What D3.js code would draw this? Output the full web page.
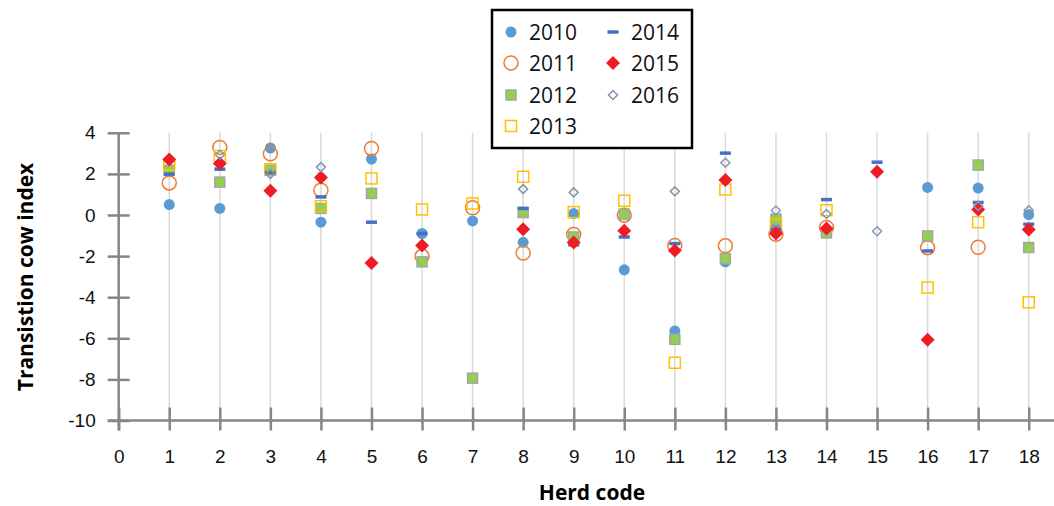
<!DOCTYPE html>
<html>
<head>
<meta charset="utf-8">
<script src="https://d3js.org/d3.v7.min.js"></script>
<style>
  body { margin: 0; background: #fff; }
  svg { display: block; font-family: "Open Sans", sans-serif; }
</style>
</head>
<body>
<div id="chart"></div>
<script>
// herd codes on the x axis
const herds = [1, 2, 3, 4, 5, 6, 7, 8, 9, 10, 11, 12, 13, 14, 15, 16, 17, 18];
const xTicks = [0, 1, 2, 3, 4, 5, 6, 7, 8, 9, 10, 11, 12, 13, 14, 15, 16, 17, 18];
const yTicks = [4, 2, 0, -2, -4, -6, -8, -10];

// transition cow index per herd, one array per year (null = no point)
const y2010 = [0.51, 0.32, 3.26, -0.35, 2.72, -0.90, -0.29, -1.33, 0.07, -2.67, -5.65, -2.28, -0.63, null, null, 1.34, 1.31, 0.02];
const y2011 = [1.56, 3.29, 2.98, 1.21, 3.24, -2.01, 0.35, -1.85, -0.95, -0.01, -1.49, -1.50, -0.94, -0.61, null, -1.59, -1.57, null];
const y2012 = [2.18, 1.60, 2.18, 0.32, 1.05, -2.28, -7.94, 0.12, -1.07, 0.04, -6.05, -2.12, -0.20, -0.87, null, -1.02, 2.43, -1.58];
const y2013 = [2.45, 2.87, 2.23, 0.43, 1.78, 0.27, 0.56, 1.86, 0.14, 0.69, -7.19, 1.24, -0.45, 0.23, null, -3.53, -0.35, -4.25];
const y2014 = [1.99, 2.23, 2.05, 0.88, -0.35, -0.90, null, 0.32, -1.45, -1.07, -1.39, 3.01, -0.71, 0.75, 2.57, -1.75, 0.61, -0.45];
const y2015 = [2.70, 2.51, 1.18, 1.83, -2.33, -1.49, null, -0.69, -1.34, -0.77, -1.73, 1.70, -0.90, -0.66, 2.10, -6.07, 0.27, -0.71];
const y2016 = [null, 2.93, 2.00, 2.33, null, null, null, 1.26, 1.10, null, 1.15, 2.54, 0.22, 0.05, -0.79, null, 0.44, 0.23];

const years = ['2010', '2011', '2012', '2013', '2014', '2015', '2016'];
const values = [y2010, y2011, y2012, y2013, y2014, y2015, y2016];

// marker look for each year
const markers = {
  '2010': { shape: 'circle', r: 5.5, fill: '#5b9bd5', stroke: 'none' },
  '2011': { shape: 'circle', r: 7, fill: 'none', stroke: '#ed7d31', sw: 1.5 },
  '2012': { shape: 'square', r: 5, fill: '#92d050', stroke: '#a5a5a5', sw: 1.5 },
  '2013': { shape: 'square', r: 5.5, fill: 'none', stroke: '#ffc000', sw: 1.5 },
  '2014': { shape: 'dash', r: 5.5, fill: '#4472c4', stroke: 'none' },
  '2015': { shape: 'diamond', r: 7, fill: '#ee1c25', stroke: 'none' },
  '2016': { shape: 'diamond', r: 4.5, fill: 'none', stroke: '#8497b0', sw: 1.5 }
};

const W = 1054, H = 506;
const svg = d3.select('#chart').append('svg').attr('width', W).attr('height', H);

const x = d3.scaleLinear().domain([0, 18.5]).range([118.7, 1054]);
const y = d3.scaleLinear().domain([-10, 4]).range([420.5, 132.8]);

// vertical grid lines
svg.append('g').selectAll('line')
  .data(herds)
  .enter().append('line')
  .attr('x1', d => x(d)).attr('x2', d => x(d))
  .attr('y1', y(4)).attr('y2', y(-10))
  .attr('stroke', '#d9d9d9').attr('stroke-width', 1.5);

const axisColor = '#868686';

const yAxis = svg.append('g')
  .attr('transform', `translate(${x(0)},0)`)
  .call(d3.axisLeft(y).tickValues(yTicks).tickFormat(d => String(d)).tickSize(11).tickPadding(12));
yAxis.selectAll('.tick line').attr('x2', 11).attr('x1', -11);

const xAxis = svg.append('g')
  .attr('transform', `translate(0,${y(-10)})`)
  .call(d3.axisBottom(x).tickValues(xTicks).tickFormat(d => String(d)).tickSize(10).tickPadding(19));
xAxis.selectAll('.tick line').attr('y1', -13).attr('y2', 10);

[yAxis, xAxis].forEach(a => {
  a.select('.domain').attr('stroke', axisColor).attr('stroke-width', 2.5);
  a.selectAll('.tick line').attr('stroke', axisColor).attr('stroke-width', 2.5);
  a.selectAll('.tick text').attr('fill', '#111').style('font-size', '19px');
});
yAxis.select('.domain').attr('d', `M0,${y(4)}V${y(-10) + 10}`);
xAxis.select('.domain').attr('d', `M${x(0) - 11},0H${W}`);

function drawMarker(g, m, cx, cy) {
  if (m.shape === 'circle') {
    g.append('circle').attr('cx', cx).attr('cy', cy).attr('r', m.r);
  } else if (m.shape === 'square') {
    g.append('rect').attr('x', cx - m.r).attr('y', cy - m.r)
      .attr('width', m.r * 2).attr('height', m.r * 2);
  } else if (m.shape === 'dash') {
    g.append('rect').attr('x', cx - m.r).attr('y', cy - 1.75)
      .attr('width', m.r * 2).attr('height', 3.5);
  } else if (m.shape === 'diamond') {
    g.append('path').attr('d', `M${cx},${cy - m.r}L${cx + m.r},${cy}L${cx},${cy + m.r}L${cx - m.r},${cy}Z`);
  }
  g.selectAll('*')
    .attr('fill', m.fill).attr('stroke', m.stroke).attr('stroke-width', m.sw || 0);
}

// points, drawn series by series so later years sit on top
years.forEach((yr, k) => {
  const g = svg.append('g').attr('class', 'series-' + yr);
  values[k].forEach((v, i) => {
    if (v === null) return;
    const mg = g.append('g');
    drawMarker(mg, markers[yr], x(herds[i]), y(v));
  });
});

// axis titles
svg.append('text')
  .attr('x', 592).attr('y', 500)
  .attr('text-anchor', 'middle')
  .style('font-size', '21px').style('font-weight', 'bold')
  .text('Herd code');

svg.append('text')
  .attr('transform', 'translate(33,277) rotate(-90)')
  .attr('text-anchor', 'middle')
  .style('font-size', '21px').style('font-weight', 'bold')
  .text('Transistion cow index');

// legend
const legend = svg.append('g');
legend.append('rect')
  .attr('x', 492).attr('y', 10).attr('width', 200).attr('height', 138)
  .attr('fill', '#fff').attr('stroke', '#000').attr('stroke-width', 2.5);

const legendPos = [
  [511, 32], [511, 63], [511, 95], [511, 126],
  [613, 32], [613, 63], [613, 95]
];
years.forEach((yr, k) => {
  const [lx, ly] = legendPos[k];
  const mg = legend.append('g');
  drawMarker(mg, markers[yr], lx, ly);
  legend.append('text')
    .attr('x', lx + 18).attr('y', ly)
    .attr('dy', '0.36em')
    .style('font-size', '21px')
    .attr('fill', '#111')
    .text(yr);
});
</script>
</body>
</html>
